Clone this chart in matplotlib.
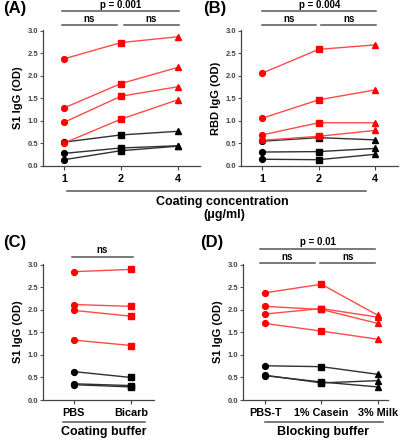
import matplotlib
matplotlib.use('Agg')
from matplotlib import pyplot as plt
from matplotlib.lines import Line2D

plt.rcParams['font.family'] = ['Liberation Sans', 'DejaVu Sans']
plt.rcParams['font.weight'] = 'bold'

# Panel A: S1 IgG vs coating concentration
conc_labels = ['1', '2', '4']
a_red = [[2.38, 2.74, 2.87], [1.29, 1.83, 2.19], [0.97, 1.55, 1.76], [0.51, 1.04, 1.47]]
a_black = [[0.53, 0.69, 0.77], [0.28, 0.40, 0.45], [0.14, 0.34, 0.44]]

# Panel B: RBD IgG vs coating concentration
b_red = [[2.06, 2.59, 2.69], [1.06, 1.47, 1.69], [0.69, 0.96, 0.96], [0.57, 0.66, 0.79]]
b_black = [[0.55, 0.63, 0.58], [0.31, 0.32, 0.39], [0.15, 0.14, 0.26]]

# Panel C: coating buffer
buffer_labels = ['PBS', 'Bicarb']
c_red = [[2.85, 2.90], [2.12, 2.08], [1.99, 1.86], [1.33, 1.21]]
c_black = [[0.63, 0.50], [0.36, 0.32], [0.34, 0.29]]

# Panel D: blocking buffer
block_labels = ['PBS-T', '1% Casein', '3% Milk']
d_red = [[2.38, 2.57, 1.88], [2.08, 2.01, 1.70], [1.91, 2.03, 1.84], [1.70, 1.53, 1.35]]
d_black = [[0.76, 0.74, 0.57], [0.55, 0.38, 0.43], [0.54, 0.40, 0.29]]

W, H = 406, 440
fig = plt.figure(figsize=(W / 100, H / 100), dpi=100)


def add_ax(left, right, top, bottom):
    return fig.add_axes([left / W, 1 - bottom / H, (right - left) / W, (bottom - top) / H])


def draw_panel(ax, red, black, labels, markers, ylabel, xlim):
    for rows, lc, mc in [(black, '#303030', 'black'), (red, '#ff4a4a', '#ff0000')]:
        for row in rows:
            x = list(range(len(row)))
            ax.plot(x, row, color=lc, lw=1.0, zorder=2)
            for xi, yi, m in zip(x, row, markers):
                ax.plot(xi, yi, marker=m, color=mc, ms=4.2, ls='none', zorder=3)
    ax.set_xlim(*xlim)
    ax.set_ylim(0, 3.02)
    ax.set_yticks([0, 0.5, 1.0, 1.5, 2.0, 2.5, 3.0])
    ax.set_yticklabels(['0.0', '0.5', '1.0', '1.5', '2.0', '2.5', '3.0'])
    ax.set_xticks(range(len(labels)))
    ax.set_xticklabels(labels, fontsize=7.8, fontweight='bold')
    ax.tick_params(axis='y', labelsize=5.5, colors='#555555', length=2.5, width=0.8, pad=1)
    ax.tick_params(axis='y', labelcolor='#444444')
    ax.tick_params(axis='x', length=3, width=0.8, color='#444444', pad=3)
    for s in ['top', 'right']:
        ax.spines[s].set_visible(False)
    for s in ['left', 'bottom']:
        ax.spines[s].set_color('#444444')
        ax.spines[s].set_linewidth(0.9)
    ax.set_ylabel(ylabel, fontsize=8, fontweight='bold', labelpad=3)


def bracket(ax, x0, x1, y, text):
    ax.plot([x0, x1], [y, y], color='#555555', lw=1.1, clip_on=False)
    ax.text((x0 + x1) / 2, y + 0.03, text, ha='center', va='bottom', fontsize=7, fontweight='bold', clip_on=False)


def fig_line(x0, x1, y):
    fig.add_artist(Line2D([x0 / W, x1 / W], [1 - y / H, 1 - y / H], color='#555555', lw=1.1))


def fig_text(x, y, s, **kw):
    fig.text(x / W, 1 - y / H, s, **kw)


axA = add_ax(43, 200, 30, 166)
draw_panel(axA, a_red, a_black, conc_labels, ['o', 's', '^'], 'S1 IgG (OD)', (-0.37, 2.39))
bracket(axA, -0.04, 2.02, 3.44, 'p = 0.001')
bracket(axA, -0.04, 0.93, 3.13, 'ns')
bracket(axA, 1.05, 2.02, 3.13, 'ns')

axB = add_ax(241, 398, 30, 166)
draw_panel(axB, b_red, b_black, conc_labels, ['o', 's', '^'], 'RBD IgG (OD)', (-0.37, 2.4))
bracket(axB, 0.0, 2.02, 3.44, 'p = 0.004')
bracket(axB, 0.0, 0.95, 3.13, 'ns')
bracket(axB, 1.05, 2.02, 3.13, 'ns')

axC = add_ax(43, 154, 264, 400)
draw_panel(axC, c_red, c_black, buffer_labels, ['o', 's'], 'S1 IgG (OD)', (-0.54, 1.4))
bracket(axC, -0.04, 1.04, 3.18, 'ns')

axD = add_ax(243, 388, 264, 400)
draw_panel(axD, d_red, d_black, block_labels, ['o', 's', '^'], 'S1 IgG (OD)', (-0.39, 2.18))
bracket(axD, -0.09, 1.95, 3.36, 'p = 0.01')
bracket(axD, -0.09, 0.88, 3.04, 'ns')
bracket(axD, 0.98, 1.95, 3.04, 'ns')

# group labels under the x axes
fig_line(67, 366, 191)
fig_text(222, 202, 'Coating concentration', ha='center', va='center', fontsize=9, fontweight='bold')
fig_text(224, 215, '(\u03bcg/ml)', ha='center', va='center', fontsize=9, fontweight='bold')

fig_line(63, 145, 422)
fig_text(104, 432, 'Coating buffer', ha='center', va='center', fontsize=9, fontweight='bold')

fig_line(265, 383, 422)
fig_text(323, 432, 'Blocking buffer', ha='center', va='center', fontsize=9, fontweight='bold')

# panel letters
for x, y, s in [(3, 9, '(A)'), (203, 9, '(B)'), (3, 242, '(C)'), (200, 242, '(D)')]:
    fig_text(x, y, s, ha='left', va='center', fontsize=12, fontweight='bold')

fig.savefig('out.png', dpi=100)
